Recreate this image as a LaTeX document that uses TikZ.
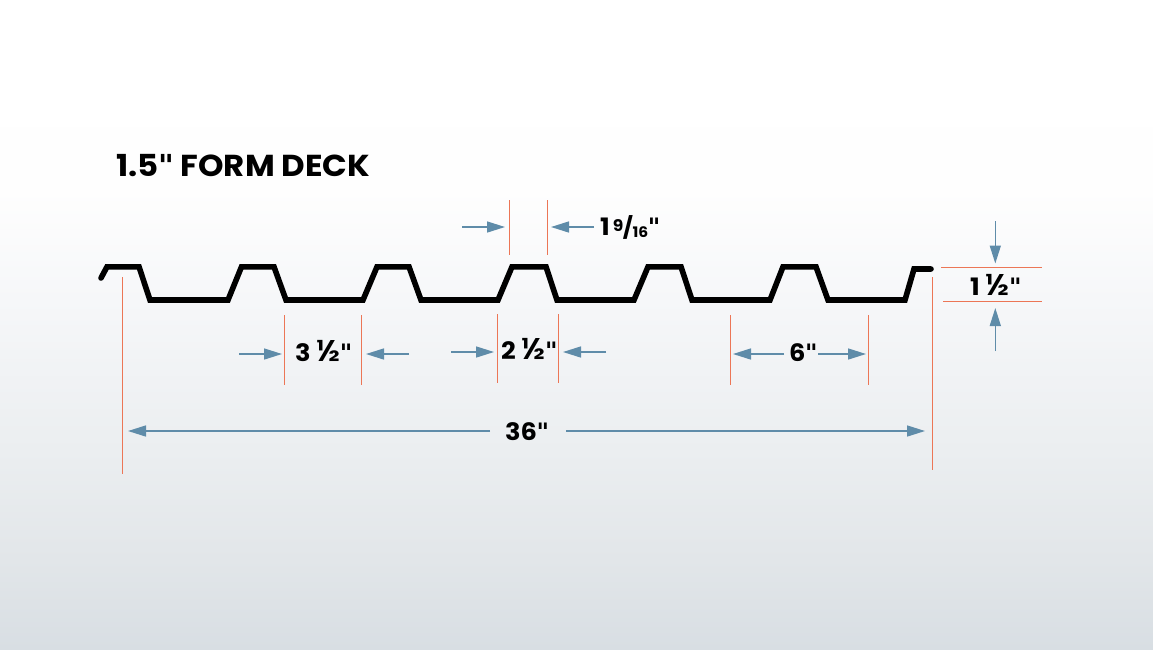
\documentclass[tikz,border=0pt]{standalone}
\usepackage{fontspec}
\setmainfont{Poppins}[BoldFont={Poppins Bold}]
\newfontfamily\widefont{Poppins Bold}[FakeStretch=1.07]
\newfontfamily\halffont{Poppins SemiBold}[FakeStretch=1.07]
\newfontfamily\quotefont{DejaVu Sans Bold}
\usetikzlibrary{arrows.meta}
\definecolor{dimblue}{HTML}{5F8CA9}
\definecolor{dimred}{HTML}{EC7656}
\definecolor{bgA}{HTML}{FEFEFE}
\definecolor{bgB}{HTML}{F6F7F9}
\definecolor{bgC}{HTML}{EBEEF0}
\definecolor{bgD}{HTML}{E2E6E9}
\definecolor{bgE}{HTML}{D8DEE3}
\pgfdeclareverticalshading{deckbg}{100bp}{
  color(0bp)=(bgE);
  color(25bp)=(bgE);
  color(31.9bp)=(bgD);
  color(40.3bp)=(bgC);
  color(51.9bp)=(bgB);
  color(60.4bp)=(bgA);
  color(70bp)=(white);
  color(100bp)=(white)
}
\tikzset{
  x=1pt,y=-1pt,
  dimarrow/.style={draw=dimblue,line width=1.5pt,-{Triangle[length=18pt,width=11pt,fill=dimblue]}},
  extline/.style={draw=dimred,line width=1pt},
  profile/.style={draw=black,line width=5.6pt,line cap=round,line join=miter},
  dimlabel/.style={font=\fontsize{24}{24}\selectfont\widefont,inner sep=0pt,anchor=base west,text=black},
  titlelabel/.style={font=\fontsize{30.3}{30}\selectfont\widefont,inner sep=0pt,anchor=base west,text=black}
}
\newcommand{\qm}{{\quotefont\kern-0.5pt"}}
\newcommand{\hf}{{\fontsize{30}{30}\selectfont\halffont ½}}
\newcommand{\ninesixteen}{\kern3pt\raisebox{4pt}{\fontsize{16}{16}\selectfont 9}\kern-0.5pt\raisebox{-0.5pt}{\fontsize{21}{21}\selectfont/}\kern-0.5pt\raisebox{-2pt}{\fontsize{14.5}{14}\selectfont 16}}
\begin{document}
\begin{tikzpicture}
\useasboundingbox (0,0) rectangle (1153,649);
\shade[shading=deckbg] (0,0) rectangle (1153,649);
% profile
\draw[profile] (101,278) -- (107,266.8) -- (139,266.8) -- (150,300) -- (228,300) -- (241.5,266.8) -- (274,266.8) -- (286,300) -- (363,300) -- (377,266.8) -- (409,266.8) -- (421,300) -- (498,300) -- (512,266.8) -- (546,266.8) -- (557,300) -- (634,300) -- (648,266.8) -- (681,266.8) -- (692,300) -- (770,300) -- (783,266.8) -- (816,266.8) -- (828,300) -- (905,300) -- (914,269) -- (931,269);
% extension lines
\draw[extline] (509.7,200) -- (509.7,255);
\draw[extline] (547,200) -- (547,255);
\draw[extline] (284.7,315) -- (284.7,385);
\draw[extline] (361.7,315) -- (361.7,385);
\draw[extline] (497,314) -- (497,383);
\draw[extline] (558.7,314) -- (558.7,383);
\draw[extline] (730.3,315) -- (730.3,385);
\draw[extline] (868.3,315) -- (868.3,385);
\draw[extline] (122.8,277) -- (122.8,474);
\draw[extline] (932.5,277) -- (932.5,470);
\draw[extline] (941,267.3) -- (1042,267.3);
\draw[extline] (943,301.3) -- (1042,301.3);
% arrow end points
\coordinate (a1s) at (462,227); \coordinate (a1e) at (505,227);
\coordinate (a2s) at (594,227); \coordinate (a2e) at (551,227);
\coordinate (b1s) at (239,354); \coordinate (b1e) at (282,354);
\coordinate (b2s) at (409,354); \coordinate (b2e) at (366,354);
\coordinate (c1s) at (451,352); \coordinate (c1e) at (494,352);
\coordinate (c2s) at (606,352); \coordinate (c2e) at (563,352);
\coordinate (d1s) at (784,354); \coordinate (d1e) at (733,354);
\coordinate (d2s) at (818,354); \coordinate (d2e) at (866,354);
\coordinate (e1s) at (490,431); \coordinate (e1e) at (128,431);
\coordinate (e2s) at (566,431); \coordinate (e2e) at (925,431);
\coordinate (f1s) at (995.3,221); \coordinate (f1e) at (995.3,263.5);
\coordinate (f2s) at (995.3,351); \coordinate (f2e) at (995.3,308);
\foreach \n in {a1,a2,b1,b2,c1,c2,d1,d2,e1,e2,f1,f2}
  \draw[dimarrow] (\n s) -- (\n e);
% labels
\node[titlelabel] (title) at (116,176) {1.5\qm{} FORM DECK};
\node[dimlabel] (l1) at (600,235) {1\ninesixteen\qm};
\node[dimlabel] (l2) at (295,361.5) {3 \hf\qm};
\node[dimlabel] (l3) at (501,359.5) {2 \hf\qm};
\node[dimlabel] (l4) at (789,361.5) {6\qm};
\node[dimlabel] (l5) at (505,440) {36\qm};
\node[dimlabel] (l6) at (970,295) {1 \hf\qm};
\end{tikzpicture}
\end{document}
